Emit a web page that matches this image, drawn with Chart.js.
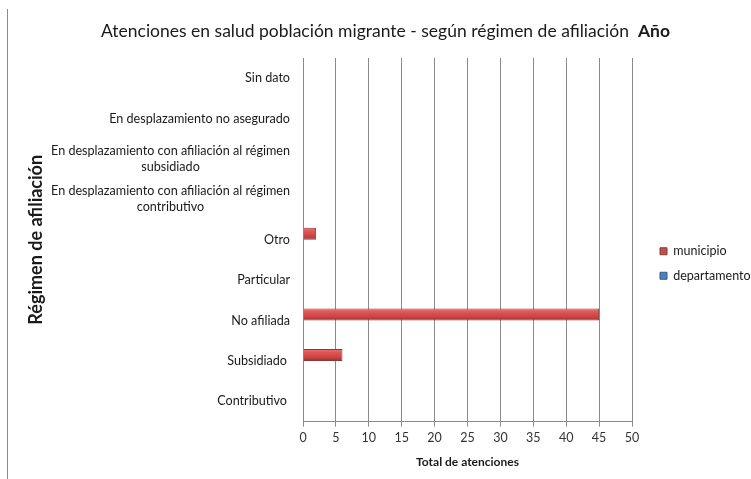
<!DOCTYPE html>
<html>
<head>
<meta charset="utf-8">
<script src="https://cdn.jsdelivr.net/npm/chart.js@4/dist/chart.umd.min.js"></script>
<style>
  html, body { margin: 0; padding: 0; background: #fff; }
  #wrap { position: relative; width: 751px; height: 479px; overflow: hidden; }
  #frame { position: absolute; left: 7px; top: 9px; height: 470px; border-left: 1px solid #8c8c8c; }
  #title { position: absolute; left: 20px; top: 20px; width: 731px; text-align: center;
           font: 17.5px Lato, sans-serif; color: #1a1a1a; white-space: nowrap; }
  canvas { position: absolute; left: 0; top: 0; }
</style>
</head>
<body>
<div id="wrap">
  <canvas id="c" width="751" height="479"></canvas>
  <div id="frame"></div>
  <div id="title">Atenciones en salud población migrante - según régimen de afiliación&nbsp;&nbsp;<b>Año</b></div>
</div>
<script>
// Affiliation regimes, top to bottom (multi-line names split into lines)
const categories = [
  ["Sin dato"],
  ["En desplazamiento no asegurado"],
  ["En desplazamiento con afiliación al régimen", "subsidiado"],
  ["En desplazamiento con afiliación al régimen", "contributivo"],
  ["Otro"],
  ["Particular"],
  ["No afiliada"],
  ["Subsidiado "],
  ["Contributivo "]
];
const municipio    = [0, 0, 0, 0, 2, 0, 45, 6, 0];
const departamento = [0, 0, 0, 0, 0, 0, 0, 0, 0];
const xMin = 0, xMax = 50, xStep = 5;

const FONT = "Lato, sans-serif";

// Shaded fill across each bar's thickness for a rounded-tube look
const barShade = {
  id: "barShade",
  beforeDatasetsDraw(chart) {
    const c = chart.ctx;
    const shades = [
      ["#f27575", "#e05454", "#c94545", "#9a2e2e"],
      ["#8fb3e0", "#4f81bd", "#3d6aa3", "#2c4d7a"]
    ];
    chart.data.datasets.forEach((ds, di) => {
      const meta = chart.getDatasetMeta(di);
      meta.data.forEach(el => {
        const h = el.height;
        const top = el.y - h / 2;
        const g = c.createLinearGradient(0, top, 0, top + h);
        const s = shades[di];
        g.addColorStop(0, s[0]);
        g.addColorStop(0.3, s[1]);
        g.addColorStop(0.7, s[2]);
        g.addColorStop(1, s[3]);
        el.options = Object.assign({}, el.options, { backgroundColor: g });
      });
    });
  }
};

// Leave a wider gap between the plot and the legend
const legendGap = {
  id: "legendGap",
  afterLayout(chart) {
    if (chart.legend) {
      chart.legend.left += 16;
      chart.legend.right += 16;
    }
  }
};

// Category names: right-aligned, wrapped lines centred on each other
const regimeLabels = {
  id: "regimeLabels",
  afterDraw(chart) {
    const c = chart.ctx;
    const ys = chart.scales.y;
    const right = chart.chartArea.left - 13;
    const lh = 16;
    c.save();
    c.font = "12.6px " + FONT;
    c.fillStyle = "#1a1a1a";
    c.textBaseline = "middle";
    c.textAlign = "center";
    categories.forEach((lines, i) => {
      const y = ys.getPixelForValue(i);
      const w = Math.max(...lines.map(l => c.measureText(l.trimEnd()).width));
      const cx = right - w / 2 - (lines[0].endsWith(" ") ? 3 : 0);
      const y0 = y - (lines.length - 1) * lh / 2;
      lines.forEach((l, k) => c.fillText(l.trimEnd(), cx, y0 + k * lh));
    });
    c.restore();
  }
};

new Chart(document.getElementById("c"), {
  type: "bar",
  data: {
    labels: categories.map(l => l.join(" ")),
    datasets: [
      { label: "municipio", data: municipio, backgroundColor: "#c0504d",
        borderColor: "#8c3836", borderWidth: 1, borderSkipped: "left" },
      { label: "departamento", data: departamento, backgroundColor: "#4f81bd",
        borderColor: "#385d8a", borderWidth: 1, borderSkipped: "left" }
    ]
  },
  options: {
    indexAxis: "y",
    responsive: false,
    animation: false,
    categoryPercentage: 0.6,
    barPercentage: 1.0,
    layout: { padding: { top: 58, bottom: 10, left: 0, right: 0 } },
    plugins: {
      title: { display: false },
      tooltip: { enabled: false },
      legend: {
        position: "right",
        labels: {
          font: { family: FONT, size: 12.5 },
          color: "#1a1a1a",
          boxWidth: 7,
          boxHeight: 7,
          padding: 12
        }
      }
    },
    scales: {
      x: {
        min: xMin, max: xMax,
        ticks: { stepSize: xStep, font: { family: FONT, size: 12.5 }, color: "#333", padding: 4 },
        grid: { color: "#8a8a8a", lineWidth: 1, tickLength: 5, drawTicks: true },
        border: { display: true, color: "#8a8a8a" },
        title: { display: true, text: "Total de atenciones",
                 font: { family: FONT, size: 12, weight: "bold" }, color: "#1a1a1a",
                 padding: { top: 5, bottom: 0 } },
        afterFit(scale) { scale.paddingRight = 119; }
      },
      y: {
        grid: { display: false },
        border: { display: false },
        ticks: { display: false },
        title: { display: true, text: "Régimen de afiliación",
                 font: { family: FONT, size: 18, weight: "bold" }, color: "#1a1a1a",
                 padding: { top: 25, bottom: 0 } },
        afterFit(scale) { scale.width = 303; }
      }
    }
  },
  plugins: [barShade, legendGap, regimeLabels]
});
</script>
</body>
</html>
